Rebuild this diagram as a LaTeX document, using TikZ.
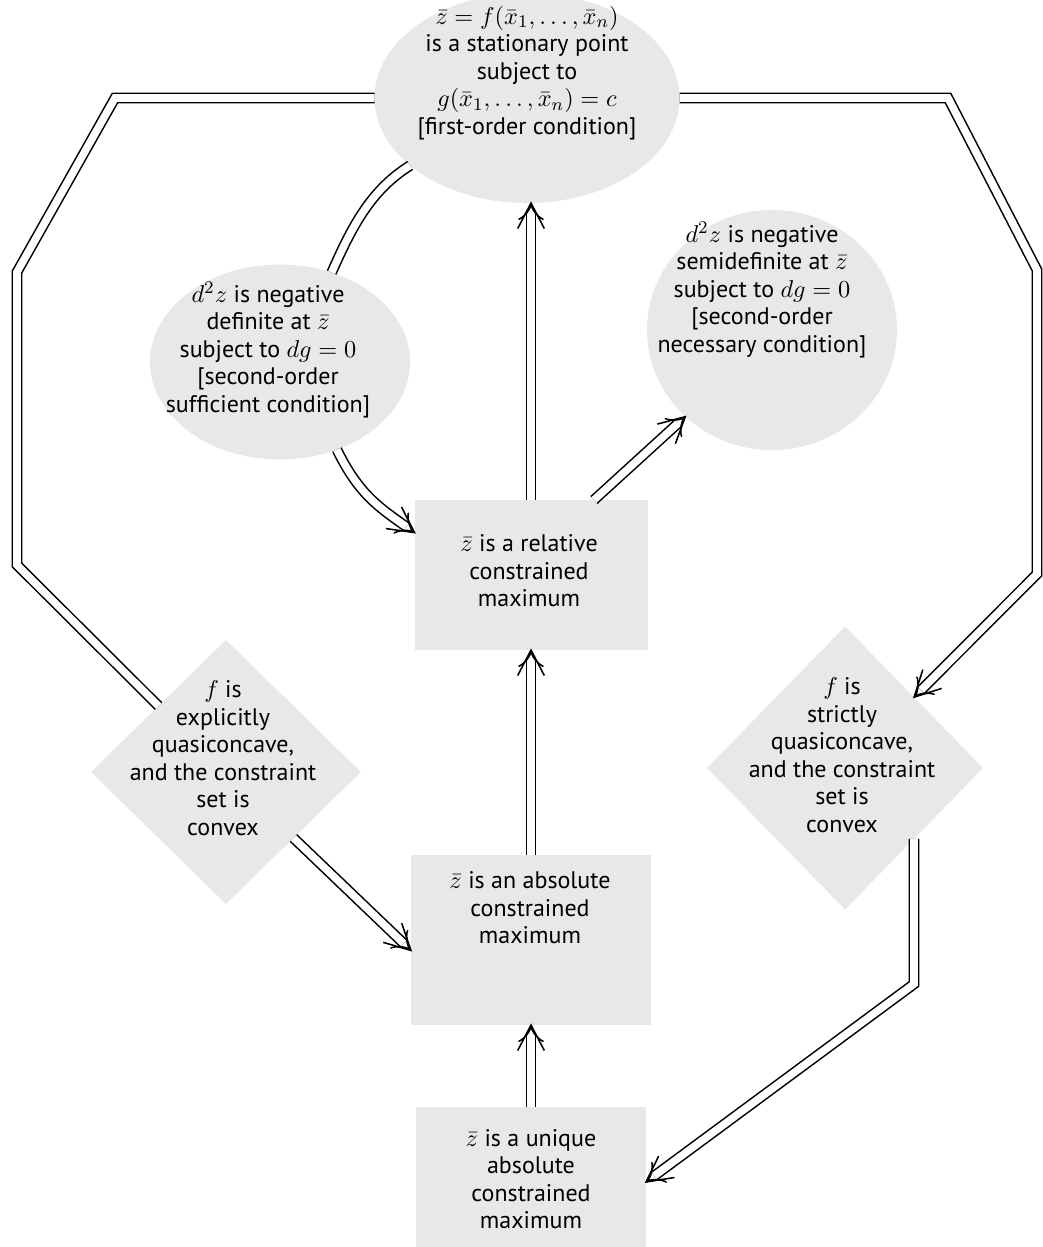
\documentclass[tikz,border=0pt]{standalone}
\usepackage{fontspec}
\setmainfont{PT Sans}
\usetikzlibrary{shapes.geometric,arrows.meta,decorations.markings}
\newcommand{\pxu}{0.45pt}

\begin{document}
\begin{tikzpicture}[x=0.45pt,y=-0.45pt]
 \tikzset{patch/.style={
    fill=black!9,
    draw=none,
    inner sep=0pt,
    outer sep=0pt
  },
  label text/.style={
    align=center,
    inner sep=0pt,
    font=\fontsize{10.8pt}{12.4pt}\selectfont
  },
  dbl/.style={double, double distance=3.4pt, line width=0.7pt},
  open head/.style={postaction={decorate, arrows=-, decoration={markings,
    mark=at position 1 with {\pgfsetinnerlinewidth{0pt}\pgfsetlinewidth{0.7pt}
      \pgfpathmoveto{\pgfpoint{-11.5pt}{6pt}}\pgfpathlineto{\pgfpointorigin}
      \pgfpathlineto{\pgfpoint{-11.5pt}{-6pt}}\pgfusepath{stroke}}}}},
  dbl arrow/.style={dbl, -{Implies}, open head}
}
\useasboundingbox (0,0) rectangle (1042,1247);

\node[patch, ellipse, minimum width=305*\pxu, minimum height=210*\pxu] (stat) at (527,98) {};
\node[patch, ellipse, minimum width=260*\pxu, minimum height=195*\pxu] (defn) at (280,362) {};
\node[patch, ellipse, minimum width=250*\pxu, minimum height=240*\pxu] (semi) at (772,330) {};
\node[patch, minimum width=233*\pxu, minimum height=150*\pxu] (rel) at (531,575) {};
\node[patch, minimum width=240*\pxu, minimum height=170*\pxu] (abs) at (531,940) {};
\node[patch, minimum width=230*\pxu, minimum height=150*\pxu] (uniq) at (531,1182) {};
\node[patch, diamond, minimum width=270*\pxu, minimum height=264*\pxu] (expl) at (226,772) {};
\node[patch, diamond, minimum width=276*\pxu, minimum height=283*\pxu] (strict) at (845,768) {};

\node[label text] (stat text) at (527,73) {$\bar z = f(\bar x_1, \ldots, \bar x_n)$\\ is a stationary point\\ subject to\\ $g(\bar x_1, \ldots, \bar x_n) = c$\\ {[}first-order condition]};
\node[label text] (defn text) at (268,350) {$d^2z$ is negative\\ definite at $\bar z$\\ subject to $dg = 0$\\ {[}second-order\\ sufficient condition]};
\node[label text] (semi text) at (762,290) {$d^2z$ is negative\\ semidefinite at $\bar z$\\ subject to $dg = 0$\\ {[}second-order\\ necessary condition]};
\node[label text] (rel text) at (529,571) {$\bar z$ is a relative\\ constrained\\ maximum};
\node[label text] (abs text) at (530,908) {$\bar z$ is an absolute\\ constrained\\ maximum};
\node[label text] (uniq text) at (531,1179) {$\bar z$ is a unique\\ absolute\\ constrained\\ maximum};
\node[label text] (expl text) at (223,758) {$f$ is\\ explicitly\\ quasiconcave,\\ and the constraint\\ set is\\ convex};
\node[label text] (strict text) at (842,755) {$f$ is\\ strictly\\ quasiconcave,\\ and the constraint\\ set is\\ convex};

\coordinate (l1) at (115,98);
\coordinate (l2) at (17,272);
\coordinate (l3) at (17,565);
\coordinate (r1) at (948,98);
\coordinate (r2) at (1037,270);
\coordinate (r3) at (1037,574);
\coordinate (r4) at (914,984);

\draw[dbl] (stat.west) -- (l1) -- (l2) -- (l3) -- (expl.north west);
\draw[dbl arrow] (stat.east) -- (r1) -- (r2) -- (r3) -- (strict.north east);
\draw[dbl arrow] (strict.south east) -- (r4) -- (uniq.east);
\draw[dbl arrow] (rel.north) -- (rel.north |- stat.south);
\draw[dbl arrow] (abs.north) -- (rel.south);
\draw[dbl arrow] (uniq.north) -- (abs.south);
\draw[dbl arrow] (rel.50) -- (semi.225);
\draw[dbl arrow] (expl.south east) -- (abs.185);
\draw[dbl] (stat.210) .. controls +(-40,25) and +(20,-45) .. (defn.60);
\draw[dbl arrow] (defn.303) .. controls +(22,45) and +(-35,-25) .. (rel.160);
\end{tikzpicture}
\end{document}
